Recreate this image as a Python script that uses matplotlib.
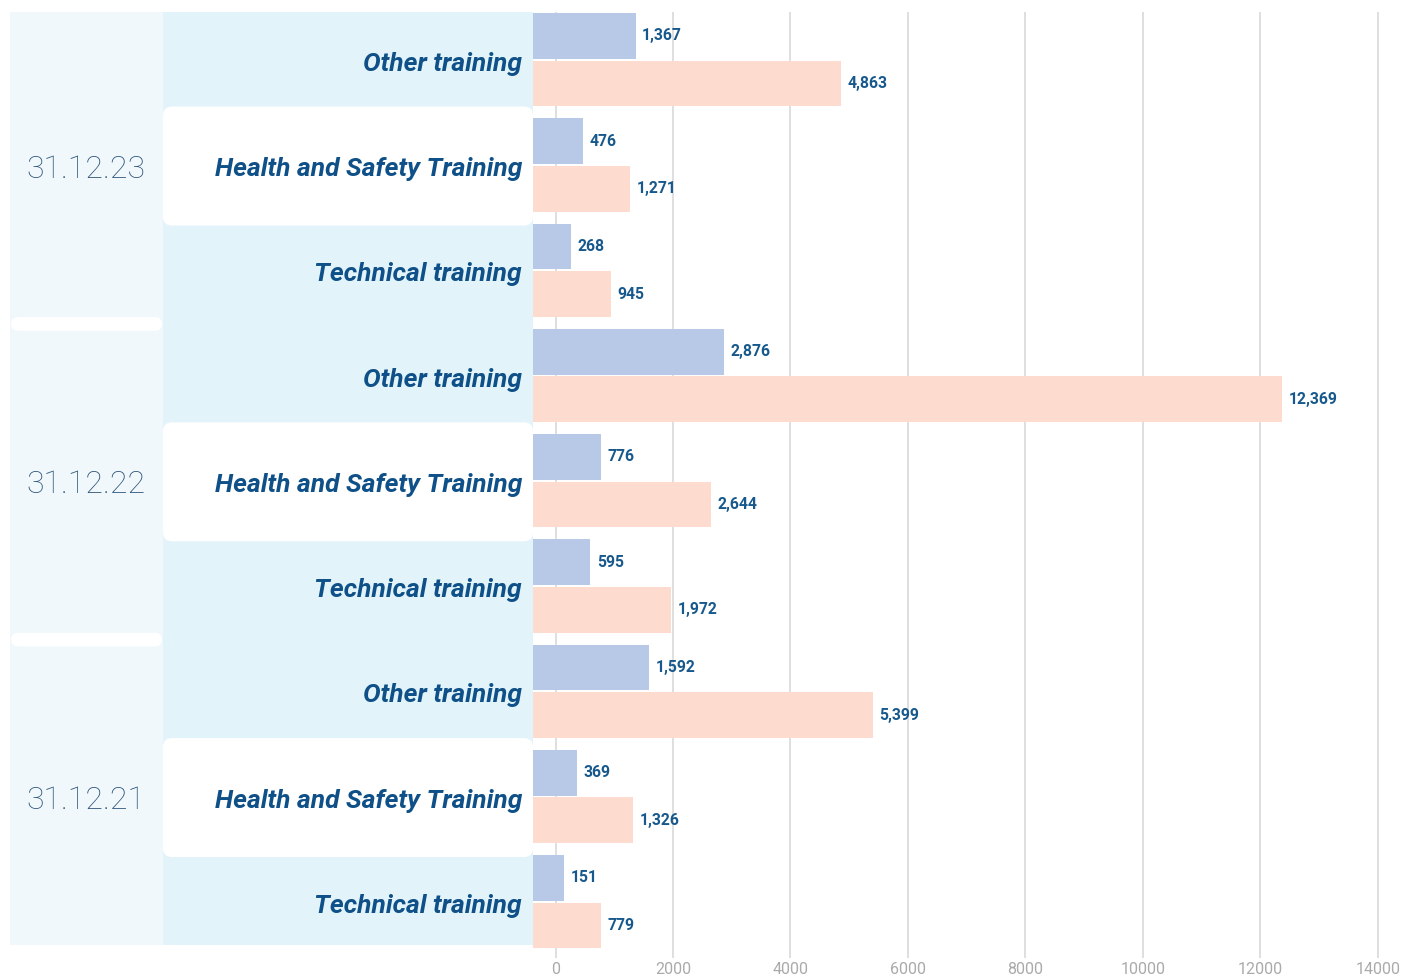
import matplotlib
matplotlib.use("Agg")
import matplotlib.pyplot as plt
from matplotlib.patches import Rectangle, FancyBboxPatch

# data (rows top to bottom)
dates = ["31.12.23", "31.12.22", "31.12.21"]
categories = ["Other training", "Health and Safety Training", "Technical training"]
series_a = [1367, 476, 268, 2876, 776, 595, 1592, 369, 151]
series_b = [4863, 1271, 945, 12369, 2644, 1972, 5399, 1326, 779]
xticks = [0, 2000, 4000, 6000, 8000, 10000, 12000, 14000]

plt.rcParams['font.family'] = ['Roboto', 'DejaVu Sans']

W, H = 1412, 975
fig = plt.figure(figsize=(W / 100, H / 100), dpi=100)

# pixel layout
row0, rowh = 59.75, 105.25      # centre of first row and row pitch, px
top_px, bot_px = 12, 958
split_px = 533
ylo = (bot_px - row0) / rowh
yhi = (top_px - row0) / rowh

ax = fig.add_axes([split_px / W, 1 - bot_px / H, (1405 - split_px) / W, (bot_px - top_px) / H])
axl = fig.add_axes([0, 1 - bot_px / H, split_px / W, (bot_px - top_px) / H], sharey=ax)

nrows = len(series_a)
ys = list(range(nrows))
xmin, xmax = -383, 14460
ax.set_xlim(xmin, xmax)
ax.set_ylim(ylo, yhi)

# bars, start at axis left edge
off, bh = 0.226, 0.435
ya = [y - off for y in ys]
yb = [y + off for y in ys]
bars_a = ax.barh(ya, [v - xmin for v in series_a], left=xmin, height=bh, color="#b8c9e8",
                 zorder=3, clip_on=False)
bars_b = ax.barh(yb, [v - xmin for v in series_b], left=xmin, height=bh, color="#fddbcf",
                 zorder=3, clip_on=False)
ax.bar_label(bars_a, labels=[f"{v:,}" for v in series_a], padding=4.5, fontsize=11.3,
             fontweight="bold", color="#17598c")
ax.bar_label(bars_b, labels=[f"{v:,}" for v in series_b], padding=4.5, fontsize=11.3,
             fontweight="bold", color="#17598c")

# grid + ticks
ax.set_xticks(xticks)
ax.set_xticklabels([str(t) for t in xticks])
ax.set_yticks([])
ax.grid(axis="x", color="#d9d9d9", linewidth=1.2, zorder=0)
ax.tick_params(axis="x", length=0, pad=3, labelsize=11.5, labelcolor="#aaaaaa")
for s in ax.spines.values():
    s.set_visible(False)

# left panel: x in pixels, y in row units
axl.set_xlim(0, split_px)
axl.axis("off")
asp = 1 / rowh
y_top = (12 - row0) / rowh
y_bot = (945 - row0) / rowh
axl.add_patch(Rectangle((10, y_top), 153, y_bot - y_top, color="#f0f8fb", lw=0))
axl.add_patch(Rectangle((163, y_top), split_px - 163, y_bot - y_top, color="#e2f4f9", lw=0))

# white pills between date groups
for g in range(1, len(dates)):
    yc = g * 3 - 0.49
    axl.add_patch(FancyBboxPatch((11, yc - 0.065), 151, 0.13,
                                 boxstyle="round,pad=0,rounding_size=7",
                                 mutation_aspect=asp, color="white", lw=0))

for i in range(nrows):
    cat = categories[i % 3]
    if i % 3 == 1:
        axl.add_patch(FancyBboxPatch((163, i - 0.555), split_px - 163, 1.13,
                                     boxstyle="round,pad=0,rounding_size=9",
                                     mutation_aspect=asp, color="white", lw=0))
    axl.text(522, i + 0.04, cat, ha="right", va="center", fontsize=19,
             fontweight="bold", fontstyle="italic", color="#0e5087")

for g, d in enumerate(dates):
    axl.text(86, g * 3 + 1.04, d, ha="center", va="center", fontsize=23,
             fontweight="light", color="#2c5279")

fig.savefig("out.png", dpi=100)
